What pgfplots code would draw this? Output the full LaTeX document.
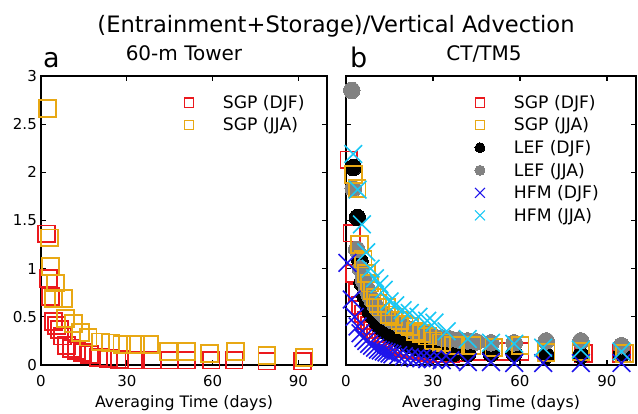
\documentclass[border=0pt]{standalone}
\usepackage{pgfplots}
\pgfplotsset{compat=1.18}
\usepackage{fontspec}
\setmainfont{DejaVu Sans}

\definecolor{cRed}{RGB}{235,25,30}
\definecolor{cOrange}{RGB}{232,168,20}
\definecolor{cGray}{RGB}{130,130,130}
\definecolor{cBlue}{RGB}{30,20,235}
\definecolor{cCyan}{RGB}{25,200,245}

\pgfplotsset{
  panel/.style={
    scale only axis,
    anchor=south west,
    height=289pt,
    xmin=0, xmax=100, ymin=0, ymax=3,
    xtick={0,30,60,90},
    ytick={0,0.5,1,1.5,2,2.5,3},
    tick align=inside,
    major tick length=5pt,
    axis line style={line width=1.6pt},
    tick style={line width=1.2pt, black},
    ticklabel style={font=\fontsize{15}{18}\selectfont},
    /pgf/number format/assume math mode=true,
    xticklabel style={anchor=base, yshift=-21.5pt},
    yticklabel style={inner sep=0pt, xshift=-4pt},
    xlabel={Averaging Time (days)},
    xlabel style={font=\fontsize{15.8}{19}\selectfont, at={(axis description cs:0.5,0)}, anchor=base, yshift=-43pt},
    clip=false,
    legend cell align=left,
    legend style={draw=none, fill=none, inner sep=0pt, outer sep=0pt,
      row sep=4pt, anchor=north west,
      font=\fontsize{17.2}{19}\selectfont,
      nodes={inner sep=2pt}},
    legend image code/.code={
      \draw[##1] plot coordinates {(0pt,0pt)};
      \path[draw=none, fill=none] (-6pt,-6pt) rectangle (32pt,6pt);
    },
  },
  sq/.style={only marks, mark=square, color=#1, mark size=8.4pt, mark options={line width=1.8pt}},
  dot/.style={only marks, mark=*, color=#1, mark size=8.3pt, mark options={line width=0pt}},
  cross/.style={only marks, mark=x, color=#1, mark size=12.5pt, mark options={line width=1.6pt}},
  lsq/.style={only marks, mark=square, color=#1, mark size=4.6pt, mark options={line width=1.1pt}},
  ldot/.style={only marks, mark=*, color=#1, mark size=5pt, mark options={line width=0pt}},
  lcross/.style={only marks, mark=x, color=#1, mark size=7pt, mark options={line width=1.1pt}},
}

\begin{document}
\begin{tikzpicture}
\useasboundingbox (0,0) rectangle (638pt,414pt);

% headings
\node[anchor=base, inner sep=0pt, font=\fontsize{22.6}{26}\selectfont] at (336pt,381pt) {(Entrainment+Storage)/Vertical Advection};
\node[anchor=base, inner sep=0pt, font=\fontsize{20}{24}\selectfont] at (184pt,353pt) {60-m Tower};
\node[anchor=base, inner sep=0pt, font=\fontsize{20}{24}\selectfont] at (484pt,353pt) {CT/TM5};
\node[anchor=base west, inner sep=0pt, font=\fontsize{27}{30}\selectfont] at (43pt,346pt) {a};
\node[anchor=base west, inner sep=0pt, font=\fontsize{27}{30}\selectfont] at (350pt,346pt) {b};

% (a) tower
\begin{axis}[panel, at={(41pt,49pt)}, width=286pt,
  legend style={at={(axis description cs:0.517,0.907)}, xshift=-6pt, yshift=9.5pt}]
\addlegendimage{lsq=cRed}\addlegendentry{SGP (DJF)}
\addlegendimage{lsq=cOrange}\addlegendentry{SGP (JJA)}
% SGP winter
\addplot[sq=cRed, forget plot] coordinates {
 (2,1.36) (2.6,0.9) (3.3,0.71) (4.4,0.45) (5.5,0.41) (6.5,0.37) (7.5,0.3)
 (9,0.2) (10.5,0.17) (12.5,0.15) (14.5,0.13) (17,0.11) (20,0.08) (23.5,0.07)
 (27.5,0.06) (32.5,0.05) (39,0.05) (45,0.05) (51,0.05) (59.5,0.05)
 (67.5,0.05) (79,0.04) (91.5,0.04)};
% SGP summer
\addplot[sq=cOrange, forget plot] coordinates {
 (2.2,2.66) (2.9,1.32) (3.3,1.02) (5,0.85) (4.3,0.69) (7.8,0.69) (8.5,0.48)
 (11.3,0.43) (13.8,0.34) (16.5,0.29) (20.7,0.24) (24.2,0.23) (28.3,0.21)
 (33,0.21) (38,0.21) (44.5,0.14) (51,0.14) (59,0.12) (68,0.14) (79,0.1) (92,0.08)};
\end{axis}

% (b) CT/TM5
\begin{axis}[panel, at={(346pt,49pt)}, width=290pt, yticklabels={},
  legend style={at={(axis description cs:0.462,0.907)}, xshift=-6pt, yshift=9.5pt}]
\addlegendimage{lsq=cRed}\addlegendentry{SGP (DJF)}
\addlegendimage{lsq=cOrange}\addlegendentry{SGP (JJA)}
\addlegendimage{ldot=black}\addlegendentry{LEF (DJF)}
\addlegendimage{ldot=cGray}\addlegendentry{LEF (JJA)}
\addlegendimage{lcross=cBlue}\addlegendentry{HFM (DJF)}
\addlegendimage{lcross=cCyan}\addlegendentry{HFM (JJA)}
% SGP winter
\addplot[sq=cRed, forget plot] coordinates {
 (1,2.13) (2,1.37) (3,0.95) (4,0.75) (5,0.62) (6,0.53) (7,0.46) (8,0.41)
 (9,0.37) (10,0.33) (11,0.3) (12,0.28) (13,0.26) (14,0.24) (16,0.21)
 (18,0.19) (20,0.17) (22,0.16) (24,0.15) (26,0.14) (28,0.13) (30,0.12)
 (33,0.12) (36,0.12) (40,0.13) (45.6,0.14) (53,0.14) (60,0.14) (69,0.13)
 (81.8,0.12) (95,0.12)};
% LEF winter
\addplot[dot=black, forget plot] coordinates {
 (2.5,2.05) (3.9,1.53) (4.8,1.08) (5.5,0.85) (6.5,0.72) (7.5,0.62) (8.5,0.55)
 (9.5,0.5) (10.5,0.45) (11.5,0.41) (12.5,0.38) (13.5,0.35) (14.5,0.33)
 (15.5,0.31) (17,0.29) (19,0.25) (21,0.22) (23,0.2) (25,0.18) (27,0.16)
 (29,0.15) (31,0.14) (34,0.13) (37,0.12) (42,0.12) (50,0.12) (58,0.12)
 (69,0.1) (81,0.1) (95,0.11)};
% LEF summer
\addplot[dot=cGray, forget plot] coordinates {
 (2,2.85) (2.5,1.83) (3.7,1.2) (5,1.0) (6,0.88) (7,0.8) (8,0.73) (9,0.67)
 (10,0.62) (11,0.58) (12,0.55) (13,0.52) (14,0.5) (15,0.48) (16,0.46)
 (18,0.43) (20,0.4) (22,0.37) (24,0.35) (26,0.34) (28,0.32) (30,0.3)
 (33,0.28) (36,0.27) (39,0.26) (42,0.25) (45,0.24) (50,0.23) (58,0.23)
 (69,0.25) (81,0.25) (95,0.2)};
% SGP summer
\addplot[sq=cOrange, forget plot] coordinates {
 (2.5,1.98) (3.8,1.83) (4.7,1.25) (5.9,1.1) (7,0.95) (8,0.85) (9,0.77)
 (10,0.7) (11,0.64) (12,0.6) (14,0.6) (15,0.52) (16.5,0.5) (18.6,0.46)
 (20,0.42) (22,0.4) (24,0.35) (26,0.33) (28,0.3) (30,0.25) (33,0.23)
 (37,0.2) (43.5,0.2) (51,0.18) (60,0.2) (69,0.13) (81,0.14) (96,0.12)};
% HFM winter
\addplot[cross=cBlue, forget plot] coordinates {
 (0.5,1.06) (2,0.68) (3,0.5) (4,0.4) (5,0.33) (6,0.28) (7,0.25) (8,0.22)
 (9,0.2) (10,0.18) (11,0.16) (12,0.15) (13,0.14) (14,0.13) (15,0.12)
 (16,0.11) (18,0.1) (20,0.09) (22,0.08) (24,0.07) (26,0.07) (28,0.06)
 (30,0.06) (33,0.05) (36,0.05) (42,0.03) (50,0.03) (58,0.02) (68,0.02)
 (81,0.02) (95,0.02)};
% HFM summer
\addplot[cross=cCyan, forget plot] coordinates {
 (2.5,2.19) (4,1.82) (5.5,1.46) (7,1.17) (8.5,1.0) (10,0.9) (11.5,0.84)
 (13,0.78) (15,0.66) (17,0.62) (19.5,0.57) (22,0.54) (25,0.5) (28,0.46)
 (30.5,0.44) (34.7,0.35) (42,0.27) (50,0.23) (58,0.22) (68,0.18) (81,0.16)
 (95,0.14)};
\end{axis}
\end{tikzpicture}
\end{document}
